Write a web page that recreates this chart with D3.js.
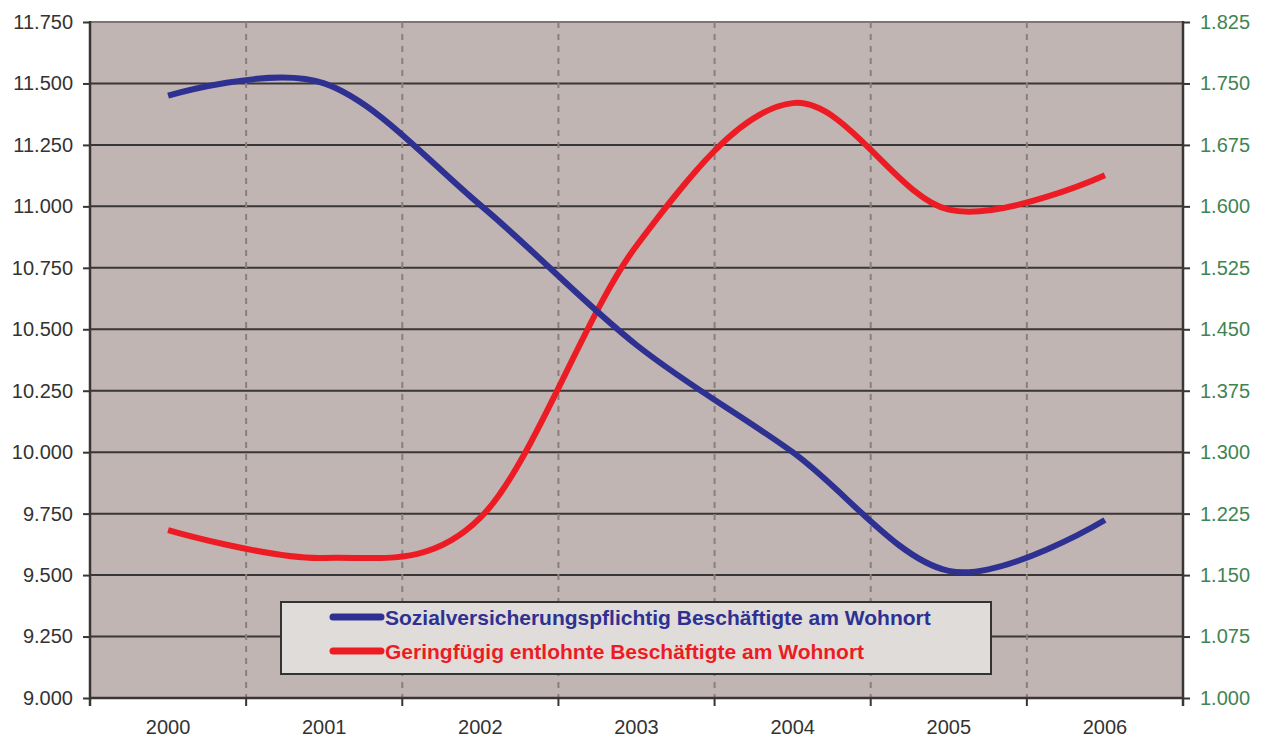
<!DOCTYPE html>
<html>
<head>
<meta charset="utf-8">
<script src="https://cdn.jsdelivr.net/npm/d3@7"></script>
<style>
  body { margin: 0; background: #fff; }
  text { font-family: "Liberation Sans", Arial, sans-serif; }
</style>
</head>
<body>
<div id="chart"></div>
<script>
// Daten
const years = ['2000', '2001', '2002', '2003', '2004', '2005', '2006']
const sozial = [11.450, 11.500, 11.005, 10.436, 10.000, 9.517, 9.724]
const gering = [1.205, 1.171, 1.220, 1.552, 1.726, 1.596, 1.638]
const leftTicks = d3.range(9.0, 11.7501, 0.25)
const rightTicks = d3.range(1.0, 1.8251, 0.075)
const seriesNames = ['Sozialversicherungspflichtig Beschäftigte am Wohnort', 'Geringfügig entlohnte Beschäftigte am Wohnort']

const width = 1263
const height = 738
const m = { left: 90, right: 80, top: 22, bottom: 40 }

const tickText = v => v.toFixed(3)

const svg = d3.select('#chart').append('svg')
    .attr('width', width)
    .attr('height', height)

const x = d3.scaleBand()
    .domain(years)
    .range([m.left, width - m.right])
    .padding(0)

const yL = d3.scaleLinear().domain([9.0, 11.75]).range([height - m.bottom, m.top])
const yR = d3.scaleLinear().domain([1.0, 1.825]).range([height - m.bottom, m.top])

const x0 = m.left, x1 = width - m.right
const yTop = m.top, yBot = height - m.bottom

// Hintergrund
svg.append('rect')
    .attr('x', x0).attr('y', yTop)
    .attr('width', x1 - x0).attr('height', yBot - yTop)
    .attr('fill', '#C0B5B2')

// horizontale Gitterlinien
svg.append('g')
    .selectAll('line')
    .data(leftTicks.slice(1, -1))
    .enter()
    .append('line')
    .attr('x1', x0).attr('x2', x1)
    .attr('y1', d => yL(d)).attr('y2', d => yL(d))
    .attr('stroke', '#3a3536')
    .attr('stroke-width', 2)

svg.append('line')
    .attr('x1', x0).attr('x2', x1)
    .attr('y1', yTop).attr('y2', yTop)
    .attr('stroke', '#7f7573')
    .attr('stroke-width', 2)

// vertikale gestrichelte Linien
svg.append('g')
    .selectAll('line')
    .data(years.slice(1))
    .enter()
    .append('line')
    .attr('x1', d => x(d)).attr('x2', d => x(d))
    .attr('y1', yTop).attr('y2', yBot)
    .attr('stroke', '#8a7f7d')
    .attr('stroke-width', 2)
    .attr('stroke-dasharray', '6 6')

// Achsen
const axisColor = '#3a3536'
const left = svg.append('g')
    .attr('transform', `translate(${x0},0)`)
    .call(d3.axisLeft(yL).tickValues(leftTicks).tickFormat(tickText).tickSize(7).tickPadding(10))
left.select('.domain').remove()
left.selectAll('line').attr('stroke', axisColor).attr('stroke-width', 2)
left.selectAll('text').attr('font-size', 20).attr('fill', '#333')
svg.append('line').attr('x1', x0).attr('x2', x0).attr('y1', yTop - 1).attr('y2', yBot + 8)
    .attr('stroke', axisColor).attr('stroke-width', 2.5)

const right = svg.append('g')
    .attr('transform', `translate(${x1},0)`)
    .call(d3.axisRight(yR).tickValues(rightTicks).tickFormat(tickText).tickSize(7).tickPadding(10))
right.select('.domain').remove()
right.selectAll('line').attr('stroke', axisColor).attr('stroke-width', 2)
right.selectAll('text').attr('font-size', 20).attr('fill', '#3F8452')
svg.append('line').attr('x1', x1).attr('x2', x1).attr('y1', yTop - 1).attr('y2', yBot + 8)
    .attr('stroke', axisColor).attr('stroke-width', 2.5)

const bottom = svg.append('g')
    .attr('transform', `translate(0,${yBot})`)
    .call(d3.axisBottom(x).tickSize(0).tickPadding(22))
bottom.select('.domain').remove()
bottom.selectAll('text').attr('font-size', 20).attr('fill', '#333')
svg.append('line').attr('x1', x0).attr('x2', x1).attr('y1', yBot).attr('y2', yBot)
    .attr('stroke', axisColor).attr('stroke-width', 2.5)
svg.append('g')
    .selectAll('line')
    .data(years.slice(1))
    .enter()
    .append('line')
    .attr('x1', d => x(d)).attr('x2', d => x(d))
    .attr('y1', yBot).attr('y2', yBot + 8)
    .attr('stroke', axisColor)
    .attr('stroke-width', 2)

// Linien (geglättet wie in Excel)
const cx = d => x(d) + x.bandwidth() / 2
const blue = '#2E3192'
const red = '#ED1C24'

const lineL = d3.line()
    .x((d, i) => cx(years[i]))
    .y(d => yL(d))
    .curve(d3.curveCatmullRom.alpha(0))
const lineR = d3.line()
    .x((d, i) => cx(years[i]))
    .y(d => yR(d))
    .curve(d3.curveCatmullRom.alpha(0))

svg.append('path')
    .attr('d', lineR(gering))
    .attr('fill', 'none')
    .attr('stroke', red)
    .attr('stroke-width', 6)

svg.append('path')
    .attr('d', lineL(sozial))
    .attr('fill', 'none')
    .attr('stroke', blue)
    .attr('stroke-width', 6)

// Legende
const lg = svg.append('g').attr('transform', 'translate(281,602)')
lg.append('rect')
    .attr('width', 710).attr('height', 72)
    .attr('fill', '#E0DCDA')
    .attr('stroke', '#333')
    .attr('stroke-width', 2)

const items = lg.selectAll('g.item')
    .data(seriesNames)
    .enter()
    .append('g')
    .attr('transform', (d, i) => `translate(0,${15 + i * 34})`)
items.append('line')
    .attr('x1', 52).attr('x2', 100)
    .attr('y1', 0).attr('y2', 0)
    .attr('stroke', (d, i) => i === 0 ? blue : red)
    .attr('stroke-width', 7)
    .attr('stroke-linecap', 'round')
items.append('text')
    .attr('x', 104)
    .attr('y', 8)
    .attr('font-size', 21)
    .attr('font-weight', 'bold')
    .attr('fill', (d, i) => i === 0 ? blue : red)
    .text(d => d)
</script>
</body>
</html>
